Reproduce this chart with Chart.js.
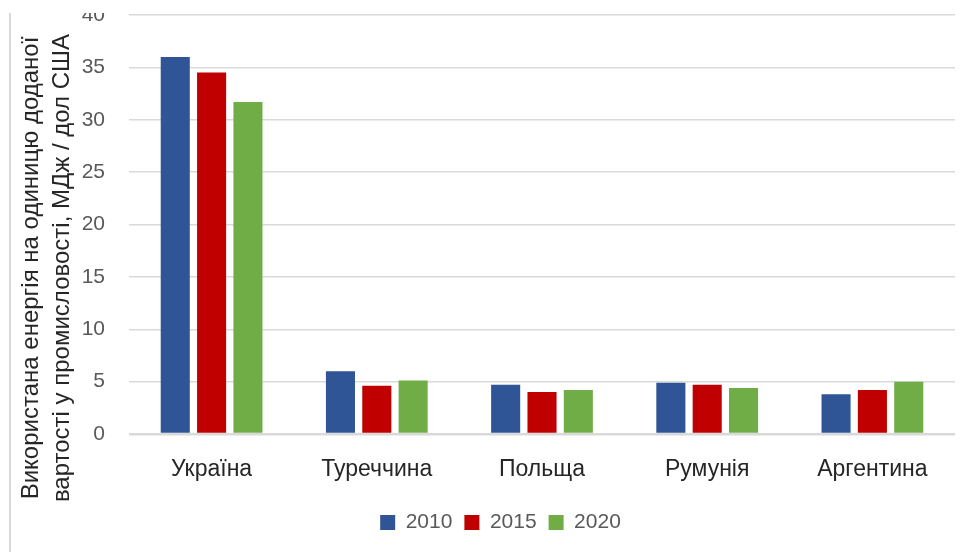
<!DOCTYPE html>
<html>
<head>
<meta charset="utf-8">
<script src="https://cdn.jsdelivr.net/npm/chart.js@4/dist/chart.umd.min.js"></script>
<style>
  html, body { margin: 0; padding: 0; background: #ffffff; }
  #wrap { width: 977px; height: 552px; position: relative; }
</style>
</head>
<body>
<div id="wrap"><canvas id="c" width="977" height="552"></canvas></div>
<script>
const categories = ["Україна", "Туреччина", "Польща", "Румунія", "Аргентина"];
const seriesNames = ["2010", "2015", "2020"];
const values2010 = [36.0, 6.0, 4.7, 4.9, 3.8];
const values2015 = [34.5, 4.6, 4.0, 4.7, 4.2];
const values2020 = [31.7, 5.1, 4.2, 4.4, 5.0];
const yTicks = [0, 5, 10, 15, 20, 25, 30, 35, 40];
const yTitleLines = ["Використана енергія на одиницю доданої", "вартості у промисловості, МДж / дол США"];

const colors = ["#2F5597", "#C00000", "#70AD47"];
const FONT = "'Liberation Sans', Arial, sans-serif";

const decor = {
  id: 'decor',
  beforeInit(chart) {
    const lg = chart.legend;
    if (lg) {
      const orig = lg.fit;
      lg.fit = function () { orig.call(this); this.height = 40; };
    }
  },
  afterLayout(chart) {
    const lg = chart.legend;
    if (lg) { lg.left += 23; lg.right += 23; }
  },
  afterDraw(chart) {
    const ctx = chart.ctx;
    ctx.save();
    // top crop
    ctx.fillStyle = '#ffffff';
    ctx.fillRect(0, 0, chart.width, 13);
    // left border line
    ctx.fillStyle = '#d9d9d9';
    ctx.fillRect(9, 13, 2, chart.height - 13);
    // y title
    ctx.fillStyle = '#262626';
    ctx.font = "24px " + FONT;
    ctx.textAlign = 'center';
    ctx.textBaseline = 'middle';
    const xs = [31, 62];
    yTitleLines.forEach((t, i) => {
      ctx.save();
      ctx.translate(xs[i], 268);
      ctx.rotate(-Math.PI / 2);
      ctx.fillText(t, 0, 0);
      ctx.restore();
    });
    ctx.restore();
  }
};

new Chart(document.getElementById('c'), {
  type: 'bar',
  data: {
    labels: categories,
    datasets: [
      { label: seriesNames[0], data: values2010, backgroundColor: colors[0] },
      { label: seriesNames[1], data: values2015, backgroundColor: colors[1] },
      { label: seriesNames[2], data: values2020, backgroundColor: colors[2] }
    ]
  },
  options: {
    responsive: false,
    animation: false,
    devicePixelRatio: 1,
    datasets: { bar: { categoryPercentage: 0.66, barPercentage: 0.8 } },
    layout: { padding: { left: 0, right: 22, top: 15, bottom: 12 } },
    plugins: {
      legend: {
        position: 'bottom',
        labels: {
          boxWidth: 15, boxHeight: 15, padding: 12,
          color: '#595959',
          font: { family: FONT, size: 21 }
        }
      },
      tooltip: { enabled: false },
      title: { display: false }
    },
    scales: {
      x: {
        grid: { display: false },
        border: { display: false },
        ticks: { color: '#262626', font: { family: FONT, size: 23 }, padding: 14, maxRotation: 0 },
        afterFit(s) { s.height = 66; }
      },
      y: {
        min: 0, max: 40,
        afterBuildTicks(s) { s.ticks = yTicks.map(v => ({ value: v })); },
        grid: {
          color: '#d9d9d9',
          lineWidth: c => (c.tick && c.tick.value === 0 ? 2.5 : 1.5),
          drawTicks: false
        },
        border: { display: false },
        ticks: { color: '#595959', font: { family: FONT, size: 21 }, padding: 24 },
        afterFit(s) { s.width = 129; s.paddingTop = 0; s.paddingBottom = 0; }
      }
    }
  },
  plugins: [decor]
});
</script>
</body>
</html>
